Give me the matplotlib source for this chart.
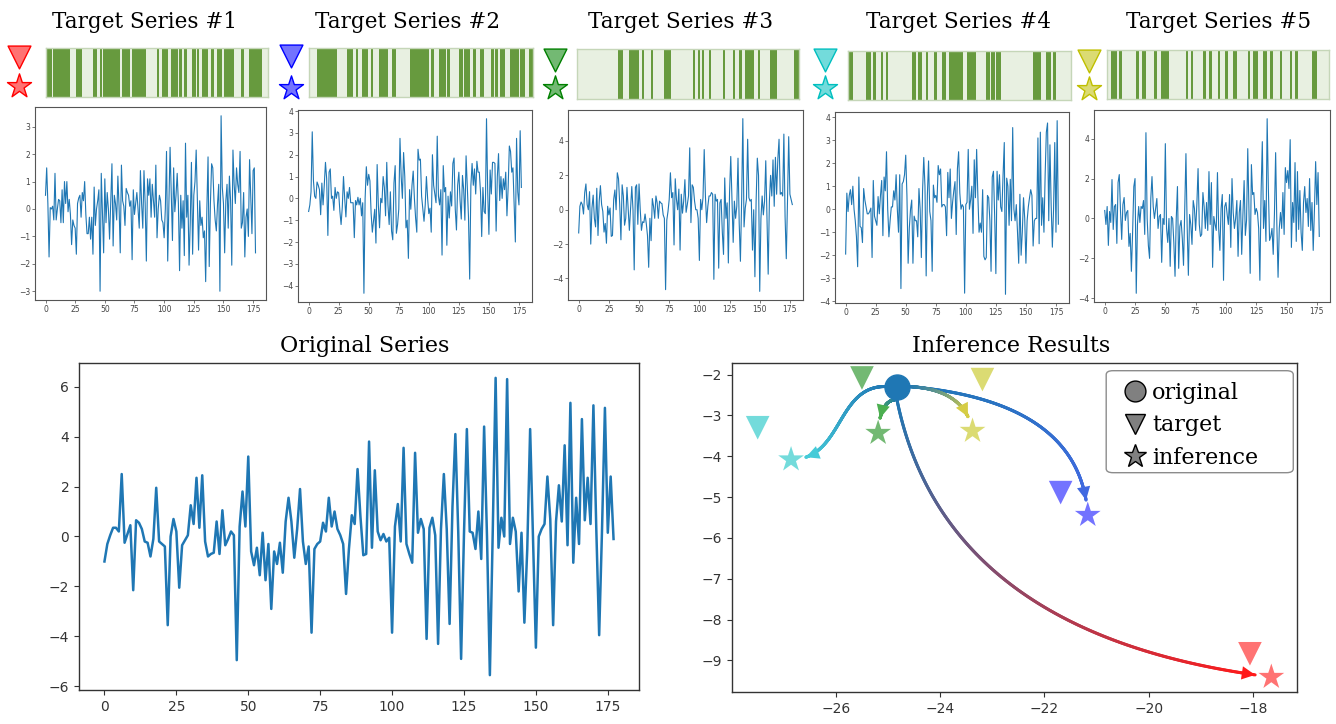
import numpy as np
import matplotlib
matplotlib.use('Agg')
import matplotlib.pyplot as plt
from matplotlib.collections import LineCollection
from matplotlib.colors import to_rgba
from matplotlib.lines import Line2D
from matplotlib.patches import FancyBboxPatch
from math import comb

W, H = 1336, 724

# ---- series values ----
original = [
    -1.0, -0.3, 0.05, 0.35, 0.35, 0.2, 2.5, -0.25, 0.1, 0.45,
    -2.15, 0.65, 0.55, 0.3, -0.2, -0.25, -0.8, -0.1, 1.95, -0.2,
    -0.3, -0.4, -3.55, 0.0, 0.7, 0.2, -2.05, -0.35, -0.15, 0.05,
    1.25, 0.5, 2.35, 0.35, 2.45, -0.2, -0.8, -0.7, -0.65, 0.6,
    -0.7, 1.05, -0.35, -0.1, 0.2, 0.05, -4.95, 0.4, 1.8, 0.4,
    3.2, -0.6, -1.15, -0.45, -1.55, 0.15, -1.75, -0.3, -2.9, -0.6,
    -1.1, -0.25, -1.45, 0.6, 1.55, 0.6, -0.85, 0.3, 1.9, -0.2,
    -1.1, -0.4, -3.85, -0.5, -0.3, -0.2, 0.55, 0.2, 1.55, 0.4,
    1.0, 0.3, 0.05, -0.3, -2.3, -0.5, 0.85, 0.5, 2.7, 0.8,
    -0.75, -0.7, 3.8, -0.45, 2.65, 0.2, -0.15, 0.1, -0.2, -0.05,
    -3.85, 0.4, 1.3, -0.2, 3.55, -0.3, -0.7, -1.05, 3.35, 0.15,
    0.7, 0.3, -4.1, 0.35, 0.75, 0.05, -4.3, 0.3, 2.5, 0.3,
    -3.5, 1.2, 4.1, 0.2, -4.9, 0.1, 4.3, 0.2, 0.15, -0.5,
    1.0, -0.9, 4.4, 0.0, -5.55, 0.2, 6.35, -0.45, 0.75, 0.0,
    6.3, -0.3, 0.75, 0.2, -2.2, 0.15, -3.45, -0.5, 4.3, 0.0,
    -4.45, 0.0, 0.3, 0.5, 2.4, 0.7, -3.55, 0.6, 2.05, 0.6,
    3.65, -0.35, 5.35, -1.05, 1.55, -0.3, 4.7, 0.65, 2.35, 0.5,
    5.25, 0.3, -3.95, 0.3, 5.15, 0.15, 2.4, -0.1,
]

target_1 = [
    0.5, 1.5, 0.2, -1.75, 0.05, 0.0, 0.1, -0.4, 1.3, -0.4,
    0.0, 0.35, 0.3, -0.5, 0.7, -0.5, 1.0, 0.2, 1.0, -0.1,
    0.35, -0.2, -1.3, -0.4, -0.6, -0.7, -1.65, 0.2, 0.4, 0.5,
    -0.3, 0.6, 0.3, 1.0, -0.2, -0.9, -0.9, -0.3, -1.1, -0.3,
    -1.65, 0.8, -0.6, 0.0, 0.3, 0.7, -3.0, 1.3, -0.2, -1.6,
    1.1, -0.5, 0.6, 0.0, -1.1, 0.3, 1.65, -1.35, 0.5, 0.2,
    -0.4, 1.2, 0.1, -1.6, 1.6, 0.3, 0.1, -0.6, 0.75, 0.6,
    0.5, 0.1, 0.3, -1.85, 0.7, -0.2, 0.2, 0.6, 0.0, -0.7,
    1.4, 0.2, -0.7, 1.4, 0.2, -1.9, 1.1, 0.5, 1.1, -0.3,
    0.9, 0.3, -0.3, 1.6, -1.05, 0.0, 0.5, 0.3, -0.4, -0.5,
    -1.05, 0.0, 2.1, -1.9, 0.2, 2.25, 0.5, -1.15, 1.5, -0.1,
    0.5, 1.3, 0.2, -2.25, 0.5, -0.7, 0.3, -1.7, 2.4, -0.3,
    0.5, -2.05, -0.5, 1.7, -1.65, 0.5, 1.0, 2.15, 0.4, -1.5,
    0.3, -0.6, -0.3, -1.05, -0.8, -2.65, 0.0, 1.9, -2.1, 0.2,
    1.65, 1.5, 0.3, -0.4, -0.8, 0.2, 0.9, -3.0, 3.4, 0.8,
    0.2, -1.6, 0.3, 0.9, -0.7, 1.2, 0.3, -2.05, 2.15, 0.9,
    0.2, 1.5, 0.9, 0.6, 2.1, -0.7, -0.5, 0.6, -1.75, -0.3,
    0.0, -1.0, 1.8, 0.5, -0.9, 1.4, 1.5, -1.6,
]

target_2 = [
    -0.6, -0.3, 0.3, 3.05, 0.8, 0.1, 0.0, 0.75, 0.6, 0.4,
    -0.75, 0.7, -0.3, 0.6, 1.65, 0.9, -1.7, 1.2, 1.35, 0.0,
    0.1, -0.55, 0.5, 0.0, 0.3, 0.25, -0.6, -1.2, -0.4, 1.0,
    0.0, -0.85, 0.3, 0.0, 0.5, -0.2, -0.2, -0.2, -1.8, -0.1,
    -0.3, 0.05, -0.3, 0.0, -0.8, -0.2, -4.35, 0.0, 1.45, 0.6,
    1.1, 0.8, -0.7, -1.55, -1.0, -0.5, -2.05, 1.55, -0.3, -1.35,
    0.0, -0.2, 1.0, 0.5, -0.8, 1.65, -0.3, -1.2, 0.3, -1.5,
    -1.9, 0.7, 1.5, -1.6, -1.2, -0.5, 2.75, 1.0, 0.0, 2.1,
    1.0, -1.35, -1.0, -2.75, 0.4, -0.5, 0.6, 1.25, 0.0, -0.9,
    -1.55, 2.25, 1.75, 1.8, 0.1, -0.5, -1.05, -0.3, 1.0, 0.0,
    -0.7, -0.45, -1.55, 2.0, 0.6, 0.2, -0.2, 2.85, 0.1, -0.3,
    0.4, -2.6, 1.5, 0.3, 0.5, -2.15, 0.1, -0.9, 0.3, -0.35,
    1.6, 1.85, -0.5, -1.45, 0.6, 1.2, -0.1, -0.95, 1.05, 0.4,
    -1.0, 1.95, 0.5, -0.85, -3.7, 0.6, 1.6, 0.6, 1.35, 0.2,
    1.7, 1.2, 1.2, 0.3, -1.75, 0.5, -0.6, -0.7, 3.65, 0.3,
    -1.65, 1.3, 0.2, 1.65, 1.65, 1.6, -1.5, 1.0, 2.05, -0.1,
    1.0, 0.0, 0.9, 0.4, 1.2, -0.8, 0.5, 2.4, 2.15, 1.2,
    1.4, -0.3, -2.0, 2.75, 0.3, -0.3, 3.1, 0.5,
]

target_3 = [
    -1.35, 0.2, 0.45, 0.3, -0.25, 1.0, 1.5, 0.3, 0.0, 1.05,
    -2.0, 0.1, 0.85, -0.5, -1.0, 1.25, -1.5, 0.5, 1.4, 0.3,
    -0.1, -1.3, -0.8, -1.95, 0.2, -0.3, 0.1, -1.55, -1.5, 0.6,
    1.15, 0.0, 2.15, 1.8, 0.3, -1.75, 1.45, 0.8, -0.9, -0.5,
    1.3, 0.0, -1.2, 0.1, 1.35, 0.0, -3.5, 1.3, 1.45, -0.85,
    1.5, 0.0, -1.2, -0.7, -0.75, -0.25, -0.8, -1.5, -3.35, -0.5,
    -1.8, 0.65, 0.2, -0.5, 0.8, 0.4, -0.5, 0.5, 0.4, 0.35,
    -0.3, -0.5, -4.65, -0.6, -0.1, 0.6, 2.15, 0.7, 1.0, -2.05,
    1.8, 0.6, 0.0, 1.2, -2.35, 0.9, -0.2, 0.5, 1.75, -0.15,
    0.3, 0.8, 3.6, -0.75, 1.45, 1.3, 0.5, 0.0, 0.0, -0.5,
    -2.95, 0.6, 0.0, 0.7, 3.5, 0.8, -0.75, 0.2, 0.8, 0.8,
    1.0, 0.9, -4.05, 0.9, 0.5, 0.6, -3.4, 0.4, 0.6, -1.3,
    -2.6, 1.85, -0.5, 0.4, -3.1, 1.0, 3.1, 0.6, -1.9, 0.5,
    -0.5, 0.2, 3.0, -0.8, -3.0, 0.5, 5.3, -1.0, 0.1, 0.6,
    4.1, 0.7, 0.5, 0.6, -2.35, 0.0, -3.9, 0.5, 3.0, 2.0,
    -4.75, -0.5, 0.8, -0.3, 0.5, 2.85, -0.5, -3.75, 0.5, 2.0,
    0.8, 2.9, 0.2, 3.05, 0.9, 2.95, 4.1, 0.9, 1.0, 0.8,
    4.4, -0.4, -2.85, 0.5, 4.25, 0.9, 0.6, 0.3,
]

target_4 = [
    -1.95, 0.7, -0.1, 0.6, 0.85, 0.2, 1.0, 0.0, -0.5, -1.2,
    -2.5, 1.4, -0.75, -0.8, -1.45, 0.9, 0.4, 0.1, -0.2, -0.2,
    -0.1, 0.05, -2.1, 1.25, -0.3, -0.5, -0.7, 0.55, -0.2, 0.6,
    1.25, -1.15, 1.4, 0.8, 2.5, 0.0, -1.2, -0.5, 0.1, 0.1,
    0.8, 0.4, 1.5, 0.0, -1.0, 1.5, -3.45, 1.1, 1.2, 1.5,
    2.35, 0.6, -2.35, -0.8, 0.0, 0.4, -2.35, -0.3, -0.5, -0.5,
    -1.2, 0.9, 0.0, -2.1, 0.8, 2.25, 1.0, -2.9, 0.6, 2.1,
    -0.1, -0.5, -2.7, 1.05, 0.5, 0.6, 0.3, 1.9, 1.5, 1.75,
    0.1, 0.2, 0.2, 0.1, -1.15, 1.6, 0.5, 1.75, -0.4, 0.3,
    0.8, 1.2, -1.1, 1.75, 2.5, 0.7, 0.0, 0.2, 0.1, -3.65,
    0.2, 0.3, 2.6, 0.0, 0.4, 1.0, -1.05, 2.15, 0.5, 2.6,
    0.6, -1.0, -0.6, -1.0, 0.85, -2.05, -2.2, -2.1, 0.6, 0.5,
    -0.5, -2.7, 1.4, 1.65, -0.3, -2.8, 1.65, 0.4, 1.5, 0.1,
    -0.1, 1.5, 2.9, -3.7, 1.35, 1.0, -0.7, 1.3, -0.5, 3.55,
    0.0, -0.5, 0.2, -1.0, -2.35, 0.65, -2.0, -1.0, 0.5, -0.4,
    -2.35, -0.5, 0.1, 0.5, 0.85, 0.6, -1.6, -0.5, -0.4, -0.4,
    3.1, -1.5, 3.35, -0.7, 0.5, -1.0, 1.5, 3.35, 3.75, -0.5,
    2.8, 0.2, -1.65, 0.0, 2.9, -1.0, 3.85, -0.65,
]

target_5 = [
    0.4, -0.3, 0.6, -1.35, 0.35, -0.2, 1.95, -0.55, 0.6, 0.7,
    -1.25, 1.8, 2.2, 0.4, -1.05, 0.7, 1.05, -0.1, 0.3, 0.4,
    -1.4, -0.75, -2.65, -0.7, 1.6, 2.0, -3.75, -0.3, 0.6, -0.2,
    0.6, 0.5, 0.9, -0.8, 4.3, 0.0, -1.35, -2.0, 1.0, 2.1,
    0.6, 0.0, 0.5, 1.0, -0.5, 0.1, 0.2, -2.2, 0.0, -0.3,
    3.75, -0.5, -1.2, 0.0, -2.4, 0.1, 0.0, -1.2, -2.9, 0.0,
    1.6, -2.5, -0.4, -0.1, -1.0, -2.35, 0.5, 3.25, -0.4, -2.85,
    0.2, -0.3, -1.3, 0.9, 0.5, -0.6, 0.7, 2.5, -0.3, -0.9,
    -0.8, 1.3, 0.6, -0.5, 0.8, -0.6, 2.35, -0.3, 1.8, -2.45,
    0.1, -0.3, -0.6, 2.3, -0.5, -1.6, 0.5, 1.2, -3.1, 0.6,
    0.8, 0.2, -0.3, 1.2, -1.45, 2.0, 0.3, -0.5, 0.0, 0.9,
    -1.9, 0.3, 0.9, -1.8, 0.2, 1.9, -0.85, -0.1, 3.5, 0.5,
    -2.75, 2.7, 1.2, 1.3, 0.2, 0.5, 0.3, -0.5, -3.1, 1.3,
    3.85, -0.5, 0.9, -1.15, 5.0, 1.5, -1.1, -0.9, -0.5, -1.8,
    0.2, 3.3, -0.3, -2.95, -0.5, 0.3, -0.5, 1.3, -0.8, 2.55,
    1.8, 2.4, 1.5, 3.95, -1.45, 0.8, -0.2, 2.8, -1.15, 2.35,
    -0.55, 1.4, -0.7, -1.6, 0.8, 1.6, 0.3, 1.0, -0.4, 2.0,
    -0.6, 0.8, -1.6, 0.4, 2.85, 0.7, 2.3, -0.9,
]

targets = [target_1, target_2, target_3, target_4, target_5]

# active time steps of each target (start, stop)
mask_1 = [(0, 5), (6, 19), (24, 29), (38, 41), (43, 45), (46, 59), (61, 67), (69, 80),
          (89, 91), (93, 98), (100, 106), (107, 109), (111, 113), (117, 120), (121, 123),
          (125, 130), (132, 135), (137, 141), (143, 151), (156, 159), (163, 173)]
mask_2 = [(6, 22), (30, 35), (37, 39), (42, 47), (49, 51), (56, 63), (66, 69), (80, 95),
          (97, 99), (103, 109), (110, 112), (119, 122), (123, 128), (130, 133), (136, 139),
          (145, 146), (148, 150), (152, 156), (160, 167), (168, 172), (175, 178)]
mask_3 = [(33, 37), (42, 50), (52, 54), (59, 60), (70, 75), (93, 95), (97, 99), (100, 102),
          (106, 107), (117, 119), (125, 126), (130, 132), (135, 142), (145, 146), (155, 160),
          (174, 178)]
mask_4 = [(1, 4), (14, 18), (20, 22), (26, 28), (30, 32), (51, 54), (56, 59), (62, 64),
          (69, 71), (75, 78), (81, 92), (95, 102), (110, 113), (114, 117), (118, 122),
          (148, 154), (158, 162), (164, 166)]
mask_5 = [(3, 8), (10, 12), (23, 26), (28, 31), (38, 39), (43, 50), (63, 65), (67, 69),
          (77, 79), (82, 84), (89, 91), (95, 97), (101, 104), (113, 115), (117, 121),
          (125, 128), (131, 132), (139, 140), (147, 148), (151, 153), (164, 168)]
masks = [mask_1, mask_2, mask_3, mask_4, mask_5]

titles = ['Target Series #1', 'Target Series #2', 'Target Series #3',
          'Target Series #4', 'Target Series #5']
series_colors = ['red', 'blue', 'green', 'c', 'y']
arrow_colors = ['#ff1a1a', '#4169e1', '#4caf50', '#45cbd8', '#d6cd45']
y_steps = [1, 1, 2, 1, 2]

# 2-D embedding of the series
orig_x, orig_y = -24.83, -2.29
target_x = [-18.06, -21.69, -25.50, -27.50, -23.19]
target_y = [-8.84, -4.89, -2.08, -3.30, -2.12]
infer_x = [-17.65, -21.17, -25.19, -26.86, -23.38]
infer_y = [-9.41, -5.44, -3.43, -4.08, -3.38]

# ---- layout (pixel boxes: left, top, right, bottom) ----
line_boxes = [(35, 107, 266, 300), (298, 110, 532, 302), (568, 110, 803, 300),
              (835, 112, 1069, 303), (1094, 110, 1330, 302)]
bar_boxes = [(46, 48, 268, 97), (309, 48, 533, 97), (577, 49, 799, 99),
             (848, 51, 1071, 100), (1107, 50, 1329, 99)]
title_x = [144, 408, 681, 958, 1219]
icon_x = [19, 291, 555, 825, 1089]
icon_tri_y = [57, 56, 60, 60, 61]
icon_star_y = [86, 88, 88, 88, 89]

SERIF = 'DejaVu Serif'
LINE_BLUE = '#1f77b4'

fig = plt.figure(figsize=(W / 100, H / 100), dpi=100)


def px_axes(box, **kw):
    l, t, r, b = box
    return fig.add_axes([l / W, 1 - b / H, (r - l) / W, (b - t) / H], **kw)


def style_spines(ax, color, lw):
    for s in ax.spines.values():
        s.set_color(color)
        s.set_linewidth(lw)


# ---- top row: masks and target series ----
for i in range(5):
    bax = px_axes(bar_boxes[i])
    bax.set_facecolor('#e8f0e1')
    # very short runs still get a visible stripe
    bax.broken_barh([(a, max(b - a, 1.7)) for a, b in masks[i]], (0, 1),
                    facecolors='#679a3e', edgecolors='none')
    bax.set_xlim(0, 178)
    bax.set_ylim(0, 1)
    bax.set_xticks([])
    bax.set_yticks([])
    style_spines(bax, '#c5d6b8', 1.0)

    ax = px_axes(line_boxes[i])
    vals = targets[i]
    ax.plot(np.arange(len(vals)), vals, color=LINE_BLUE, lw=0.8)
    ax.set_xticks(range(0, 176, 25))
    st = y_steps[i]
    ax.set_yticks(range(-4 if st == 2 or min(vals) < -3.5 else -3, 5, st))
    ax.tick_params(labelsize=5.5, length=2, width=0.5, pad=1.5, colors='#444444')
    style_spines(ax, '#555555', 0.8)
    ax.set_ylim(min(vals) - 0.05 * (max(vals) - min(vals)),
                max(vals) + 0.05 * (max(vals) - min(vals)))

    fig.text(title_x[i] / W, 1 - 28.3 / H, titles[i], family=SERIF, fontsize=15.5,
             ha='center', va='baseline')

# ---- original series ----
ax_o = px_axes((79, 363, 639, 690))
ax_o.plot(np.arange(len(original)), original, color=LINE_BLUE, lw=1.8)
ax_o.set_xticks(range(0, 176, 25))
ax_o.set_yticks(range(-6, 7, 2))
ax_o.tick_params(labelsize=10, colors='#333333')
style_spines(ax_o, '#333333', 1.0)
fig.text(365 / W, 1 - 352 / H, 'Original Series', family=SERIF, fontsize=16,
         ha='center', va='baseline')

# ---- inference results ----
ax_i = px_axes((732, 363, 1297, 692))
ax_i.scatter([orig_x], [orig_y], s=324, color=LINE_BLUE, zorder=5)
for i in range(5):
    ax_i.scatter(target_x[i], target_y[i], marker='v', s=289,
                 color=series_colors[i], alpha=0.55, edgecolors='none', zorder=4)
    ax_i.scatter(infer_x[i], infer_y[i], marker='*', s=380,
                 color=series_colors[i], alpha=0.55, edgecolors='none', zorder=4)
ax_i.autoscale_view()
ax_i.set_xlim(ax_i.get_xlim())
ax_i.set_ylim(ax_i.get_ylim())
ax_i.set_xticks(range(-26, -17, 2))
ax_i.set_yticks(range(-9, -1))
ax_i.tick_params(labelsize=10, colors='#333333')
style_spines(ax_i, '#333333', 1.0)
fig.text(1011 / W, 1 - 352.5 / H, 'Inference Results', family=SERIF, fontsize=16,
         ha='center', va='baseline')

# curved arrows: where each leaves the circle (display px) and bezier control fractions
anchors = [(0, -13), (12, 0), (0, -13), (-12, 0), (12, 0)]
controls = [
    [(0.128, 0.853)],
    [(0.96, 0.115)],
    [(0.894, 0.0)],
    [(0.52, 0.0), (0.45, 1.0)],
    [(0.88, 0.063)],
]


def bezier(pts, n=400):
    t = np.linspace(0, 1, n)[:, None]
    k = len(pts) - 1
    return sum(comb(k, j) * (1 - t) ** (k - j) * t ** j * pts[j] for j in range(k + 1))


to_px = ax_i.transData
to_data = ax_i.transData.inverted()
c0 = np.array(to_rgba(LINE_BLUE))
center = to_px.transform((orig_x, orig_y))
for i in range(5):
    s = center + np.array(anchors[i], dtype=float)
    e = to_px.transform((infer_x[i], infer_y[i]))
    pts = np.vstack([s] + [s + np.array(f) * (e - s) for f in controls[i]] + [e])
    curve = bezier(pts)
    seg = np.hypot(*np.diff(curve, axis=0).T)
    left = np.cumsum(seg[::-1])[::-1]
    curve = curve[:-1][left > 15]
    xy = to_data.transform(curve)
    segs = np.stack([xy[:-1], xy[1:]], axis=1)
    c1 = np.array(to_rgba(arrow_colors[i]))
    frac = np.linspace(0, 1, len(segs))[:, None]
    cols = c0 * (1 - frac) + c1 * frac
    lc = LineCollection(segs, colors=cols, linewidths=2.2, capstyle='round', zorder=3)
    ax_i.add_collection(lc, autolim=False)
    ax_i.annotate('', xy=xy[-1], xytext=xy[-9],
                  arrowprops=dict(arrowstyle='-|>', color=arrow_colors[i], lw=0,
                                  shrinkA=0, shrinkB=0, mutation_scale=24), zorder=3)

# legend with its own frame
frame = FancyBboxPatch((0.6623, 0.6666), 0.9934 - 0.6623, 0.9766 - 0.6666,
                       boxstyle='round,pad=0,rounding_size=0.012',
                       transform=ax_i.transAxes, facecolor='white', edgecolor='#8c8c8c',
                       lw=1.0, zorder=6)
ax_i.add_patch(frame)
handles = [
    Line2D([], [], ls='none', marker='o', ms=15, mfc='#808080', mec='black', mew=1),
    Line2D([], [], ls='none', marker='v', ms=15, mfc='#808080', mec='black', mew=1),
    Line2D([], [], ls='none', marker='*', ms=17, mfc='#808080', mec='black', mew=1),
]
leg = ax_i.legend(handles, ['original', 'target', 'inference'], loc='upper left',
                  bbox_to_anchor=(0.694, 0.943), frameon=False, borderpad=0,
                  borderaxespad=0, handlelength=1.0, handletextpad=0.25,
                  labelspacing=0.48, prop={'family': SERIF, 'size': 16})
leg.set_zorder(7)

# ---- marker icons beside the masks ----
ov = fig.add_axes([0, 0, 1, 1], facecolor='none')
ov.set_xlim(0, W)
ov.set_ylim(H, 0)
ov.axis('off')
for i in range(5):
    face = to_rgba(series_colors[i], 0.55)
    edge = to_rgba(series_colors[i], 1.0)
    ov.scatter(icon_x[i], icon_tri_y[i], marker='v', s=270, facecolors=[face],
               edgecolors=[edge], linewidths=1.0)
    ov.scatter(icon_x[i], icon_star_y[i], marker='*', s=330, facecolors=[face],
               edgecolors=[edge], linewidths=1.0)

fig.savefig('out.png', dpi=100)
